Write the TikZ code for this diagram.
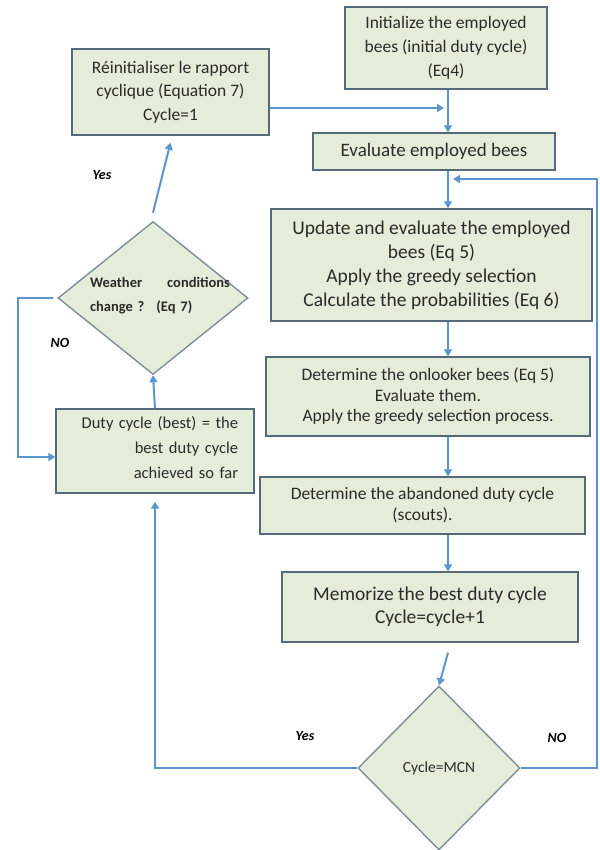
\documentclass[tikz,border=0pt]{standalone}
\usepackage{fontspec}
\setmainfont{Carlito}
\usetikzlibrary{shapes.geometric,arrows.meta}
\definecolor{boxfill}{HTML}{E3EDD9}
\definecolor{boxline}{HTML}{55697A}
\definecolor{dialine}{HTML}{7D8E98}
\definecolor{arrblue}{HTML}{5B95CF}
\definecolor{txt}{HTML}{2B2B2B}
\tikzset{
  stepbox/.style={draw=boxline, line width=1.4pt, fill=boxfill, text=txt, inner sep=0pt, align=center},
  decbox/.style={diamond, draw=dialine, line width=1.4pt, fill=boxfill, inner sep=0pt},
  arr/.style={draw=arrblue, line width=2pt, -{Triangle[width=8pt,length=7pt]}},
  lbl/.style={font=\fontsize{14}{16}\selectfont\bfseries\itshape, text=black}
}
\begin{document}
\begin{tikzpicture}[x=1pt,y=-1pt]
\useasboundingbox (0,0) rectangle (599,850);
% boxes
\node[stepbox, minimum width=197pt, minimum height=86pt, font=\fontsize{17.5}{23.5}\selectfont] (reinit) at (170.5,92) {Réinitialiser le rapport\\cyclique (Equation 7)\\Cycle=1};
\node[stepbox, minimum width=202pt, minimum height=82pt, font=\fontsize{17.5}{24}\selectfont] (init) at (446,48) {Initialize the employed\\bees (initial duty cycle)\\(Eq4)};
\node[stepbox, minimum width=242pt, minimum height=37pt, font=\fontsize{19}{20}\selectfont] (eval) at (434,151.5) {Evaluate employed bees};
\node[stepbox, minimum width=321pt, minimum height=112pt, font=\fontsize{19.5}{24}\selectfont] (update) at (431.5,265) {Update and evaluate the employed\\bees (Eq 5)\\Apply the greedy selection\\Calculate the probabilities (Eq 6)};
\node[stepbox, minimum width=324pt, minimum height=79pt, font=\fontsize{17.5}{20.5}\selectfont] (onlook) at (428,396.5) {Determine the onlooker bees (Eq 5)\\Evaluate them.\\Apply the greedy selection process.};
\node[stepbox, minimum width=325pt, minimum height=57pt, font=\fontsize{17.5}{21}\selectfont] (aband) at (422.5,505.5) {Determine the abandoned duty cycle\\(scouts).};
\node[stepbox, minimum width=296pt, minimum height=70pt, font=\fontsize{19.5}{22.5}\selectfont] (memo) at (430,607) {Memorize the best duty cycle\\Cycle=cycle+1};
\node[decbox, minimum width=162pt, minimum height=164pt, font=\fontsize{15.5}{16}\selectfont, text=txt] (mcn) at (439,768) {Cycle=MCN};
\node[decbox, minimum width=190pt, minimum height=153pt] (wc) at (153,298) {};
\node[text=txt, align=left, text width=140pt, inner sep=0pt, font=\fontsize{14.5}{24}\selectfont\bfseries] (wctext) at (160,296) {Weather \hfill conditions\\change ? \ (Eq 7)};
\node[stepbox, minimum width=198pt, minimum height=84pt] (duty) at (155,451) {};
\node[text=txt, align=right, text width=175pt, inner sep=0pt, font=\fontsize{16.5}{25}\selectfont] (dutytext) at (150.5,448) {Duty cycle (best) = the\\best duty cycle\\achieved so far};
% coordinates
\coordinate (colx) at (448,0);
\coordinate (j1) at (444,108);
\coordinate (j2) at (453,179);
\coordinate (rx) at (597,0);
\coordinate (lx) at (18,0);
% connectors
\draw[arr] ([yshift=-16pt]reinit.east) -- (j1);
\draw[arr] (init.south -| colx) -- (eval.north -| colx);
\draw[arr] (eval.south -| colx) -- (update.north -| colx);
\draw[arr] (update.south -| colx) -- (onlook.north -| colx);
\draw[arr] (onlook.south -| colx) -- (aband.north -| colx);
\draw[arr] (aband.south -| colx) -- (memo.north -| colx);
\draw[arr] ([yshift=-10pt]memo.south -| colx) -- (mcn.north);
\draw[arr] (mcn.east) -- (mcn.east -| rx) |- (j2);
\draw[arr] (mcn.west) -| ([yshift=-8pt]duty.south);
\draw[arr] ([xshift=-4pt]wc.west) -- (wc.west -| lx) |- ([yshift=-6pt]duty.west);
\draw[arr] (duty.north) -- (wc.south);
\draw[arr] ([yshift=8pt]wc.north) -- ([yshift=-7pt]reinit.south);
% labels
\node[lbl] (yes1) at (102,175) {Yes};
\node[lbl] (no1) at (60,343) {NO};
\node[lbl] (yes2) at (305,736) {Yes};
\node[lbl] (no2) at (557,738) {NO};
\end{tikzpicture}
\end{document}
